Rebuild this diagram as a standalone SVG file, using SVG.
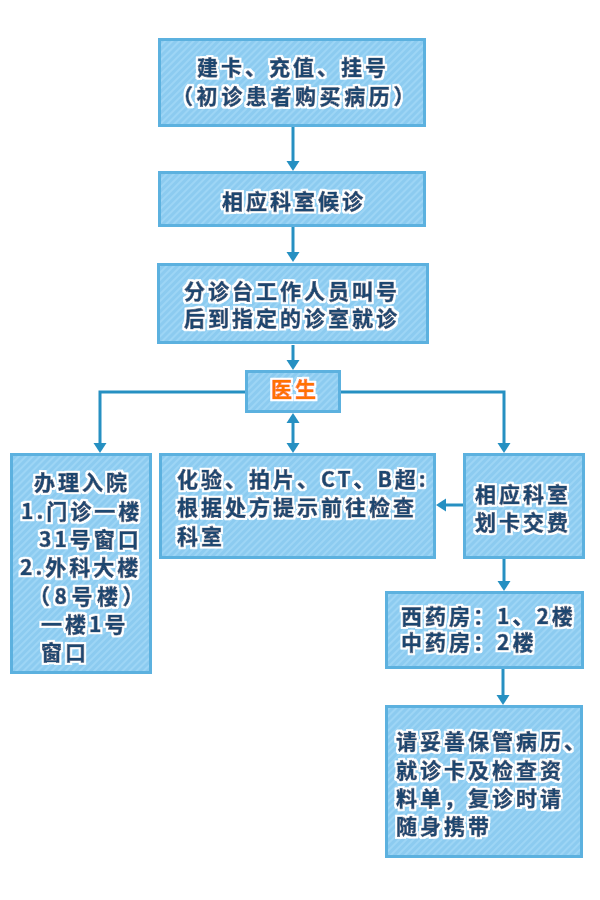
<svg xmlns="http://www.w3.org/2000/svg" width="600" height="900" viewBox="0 0 600 900">
<style>
.box{fill:url(#hatch);stroke:#5cb1df;stroke-width:3}
.t{font-family:"Noto Sans CJK SC","Noto Sans",sans-serif;font-size:21px;font-weight:bold;fill:#1c4670;stroke:#1c4670;stroke-width:0.7;stroke-linejoin:round;letter-spacing:3px;filter:url(#halo)}
.doc{fill:#ff7200;stroke:#ff7200}
.c{fill:none;stroke:#2690c2;stroke-width:3}
</style>
<defs>
<pattern id="hatch" patternUnits="userSpaceOnUse" width="5" height="5" patternTransform="rotate(45)">
<rect width="5" height="5" fill="#8ccbf0"/>
<rect width="2" height="5" fill="#9dd5f5"/>
</pattern>
<filter id="halo" x="-10%" y="-30%" width="120%" height="160%">
<feMorphology in="SourceAlpha" operator="dilate" radius="1.6" result="d"/>
<feFlood flood-color="#ffffff"/>
<feComposite in2="d" operator="in" result="w"/>
<feMerge><feMergeNode in="w"/><feMergeNode in="SourceGraphic"/></feMerge>
</filter>
<marker id="ah" markerUnits="userSpaceOnUse" viewBox="0 -7 10 14" refX="0" refY="0" markerWidth="10" markerHeight="14" orient="auto-start-reverse">
<path d="M0,-6.5 L10,0 L0,6.5 Z" fill="#2690c2"/>
</marker>
</defs>
<rect width="600" height="900" fill="#ffffff"/>
<g id="connectors">
<line class="c" x1="293" y1="127" x2="293" y2="161" marker-end="url(#ah)"/>
<line class="c" x1="293" y1="227" x2="293" y2="252" marker-end="url(#ah)"/>
<line class="c" x1="293" y1="345" x2="293" y2="360" marker-end="url(#ah)"/>
<line class="c" x1="293" y1="423" x2="293" y2="443" marker-start="url(#ah)" marker-end="url(#ah)"/>
<polyline class="c" points="245,392 100,392 100,443" marker-end="url(#ah)"/>
<polyline class="c" points="341,392 504,392 504,443" marker-end="url(#ah)"/>
<line class="c" x1="463" y1="505" x2="446" y2="505" marker-end="url(#ah)"/>
<line class="c" x1="504" y1="559" x2="504" y2="581" marker-end="url(#ah)"/>
<line class="c" x1="503" y1="669" x2="503" y2="695" marker-end="url(#ah)"/>
</g>
<g id="n1">
<rect class="box" x="159.5" y="39.5" width="265" height="86"/>
<text class="t" x="197" y="75">建卡、充值、挂号</text>
<text class="t" x="172" y="104" style="letter-spacing:3.6px">（初诊患者购买病历）</text>
</g>
<g id="n2">
<rect class="box" x="159.5" y="172.5" width="265" height="53"/>
<text class="t" x="222" y="209">相应科室候诊</text>
</g>
<g id="n3">
<rect class="box" x="158.5" y="264.5" width="269" height="78"/>
<text class="t" x="184" y="299">分诊台工作人员叫号</text>
<text class="t" x="184" y="326">后到指定的诊室就诊</text>
</g>
<g id="doctor">
<rect class="box" x="246.5" y="371.5" width="93" height="40"/>
<text class="t doc" x="271" y="397">医生</text>
</g>
<g id="admission">
<rect class="box" x="11.5" y="454.5" width="139" height="218"/>
<text class="t" x="34" y="490">办理入院</text>
<text class="t" x="21" y="519">1.门诊一楼</text>
<text class="t" x="39" y="547">31号窗口</text>
<text class="t" x="20" y="575">2.外科大楼</text>
<text class="t" x="29" y="604" style="letter-spacing:4.5px">（8号楼）</text>
<text class="t" x="41" y="632">一楼1号</text>
<text class="t" x="41" y="660">窗口</text>
</g>
<g id="tests">
<rect class="box" x="160.5" y="454.5" width="274" height="103"/>
<text class="t" x="177" y="487">化验、拍片、CT、B超:</text>
<text class="t" x="177" y="515">根据处方提示前往检查</text>
<text class="t" x="177" y="544">科室</text>
</g>
<g id="payment">
<rect class="box" x="464.5" y="454.5" width="119" height="103"/>
<text class="t" x="475" y="502">相应科室</text>
<text class="t" x="475" y="530">划卡交费</text>
</g>
<g id="pharmacy">
<rect class="box" x="386.5" y="592.5" width="196" height="75"/>
<text class="t" x="401" y="624">西药房：1、2楼</text>
<text class="t" x="401" y="650">中药房：2楼</text>
</g>
<g id="notice">
<rect class="box" x="386.5" y="706.5" width="195" height="150"/>
<text class="t" x="396" y="749">请妥善保管病历、</text>
<text class="t" x="396" y="778">就诊卡及检查资</text>
<text class="t" x="396" y="806">料单，复诊时请</text>
<text class="t" x="396" y="834">随身携带</text>
</g>
</svg>
